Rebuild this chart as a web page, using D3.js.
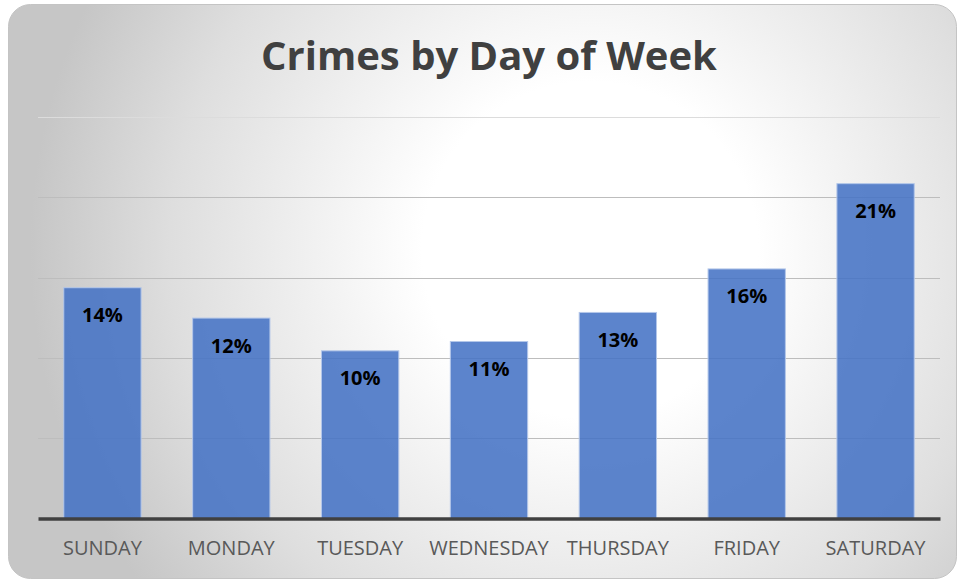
<!DOCTYPE html>
<html>
<head>
<meta charset="utf-8">
<script src="https://cdn.jsdelivr.net/npm/d3@7"></script>
<style>
  html, body { margin: 0; padding: 0; background: #ffffff; }
  svg { display: block; }
</style>
</head>
<body>
<svg id="chart" width="959" height="580"></svg>
<script>
const days = ["SUNDAY", "MONDAY", "TUESDAY", "WEDNESDAY", "THURSDAY", "FRIDAY", "SATURDAY"];
const shares = [14.37, 12.48, 10.44, 11.02, 12.83, 15.54, 20.85];
const gridTicks = [5, 10, 15, 20, 25];
const title = "Crimes by Day of Week";

const svg = d3.select("#chart");
const W = 959, H = 580;
const margin = { left: 38, right: 19, top: 117, bottom: 61.5 };

const defs = svg.append("defs");
const grad = defs.append("radialGradient")
  .attr("id", "bg").attr("gradientUnits", "userSpaceOnUse")
  .attr("cx", 590).attr("cy", 250).attr("r", 560)
  .attr("fx", 590).attr("fy", 250);
grad.append("stop").attr("offset", "0%").attr("stop-color", "#ffffff");
grad.append("stop").attr("offset", "30%").attr("stop-color", "#ffffff");
grad.append("stop").attr("offset", "75%").attr("stop-color", "#dedede");
grad.append("stop").attr("offset", "100%").attr("stop-color", "#c6c6c6");

svg.append("rect")
  .attr("x", 8.5).attr("y", 4.5).attr("width", 948).attr("height", 574)
  .attr("rx", 22).attr("ry", 22)
  .attr("fill", "url(#bg)")
  .attr("stroke", "#c4c4c4").attr("stroke-width", 1);

const x = d3.scaleBand()
  .domain(days)
  .range([margin.left, W - margin.right])
  .paddingInner(0.4).paddingOuter(0.2);

const y = d3.scaleLinear()
  .domain([0, 25])
  .range([H - margin.bottom, margin.top]);

// gridlines
svg.append("g").selectAll("line")
  .data(gridTicks)
  .join("line")
  .attr("x1", margin.left).attr("x2", W - margin.right)
  .attr("y1", d => Math.round(y(d)) + 0.5)
  .attr("y2", d => Math.round(y(d)) + 0.5)
  .attr("stroke", d => d === 25 ? "#dcdcdc" : "#bdbdbd")
  .attr("stroke-width", 1);

// bars
svg.append("g").selectAll("rect")
  .data(days.map((d, i) => ({ day: d, v: shares[i] })))
  .join("rect")
  .attr("x", d => x(d.day))
  .attr("y", d => y(d.v))
  .attr("width", x.bandwidth())
  .attr("height", d => y(0) - y(d.v))
  .attr("fill", "#4472c4")
  .attr("fill-opacity", 0.87)
  .attr("stroke", "#b4c7e9")
  .attr("stroke-width", 1);

// value labels
svg.append("g").selectAll("text")
  .data(days.map((d, i) => ({ day: d, v: shares[i] })))
  .join("text")
  .attr("x", d => x(d.day) + x.bandwidth() / 2)
  .attr("y", d => y(d.v) + 34.5)
  .attr("text-anchor", "middle")
  .attr("font-family", "'Open Sans', sans-serif")
  .attr("font-weight", 700)
  .attr("font-size", 20)
  .attr("fill", "#000000")
  .text(d => Math.round(d.v) + "%");

// baseline axis
const xAxis = d3.axisBottom(x).tickSize(0).tickPadding(22);
const ax = svg.append("g")
  .attr("transform", `translate(0,${y(0)})`)
  .call(xAxis);
ax.select(".domain").attr("stroke", "#404040").attr("stroke-width", 3.5);
ax.selectAll(".tick text")
  .attr("font-family", "'Open Sans', sans-serif")
  .attr("font-size", 20)
  .attr("fill", "#595959");

// title
svg.append("text")
  .attr("x", (margin.left + W - margin.right) / 2)
  .attr("y", 70)
  .attr("text-anchor", "middle")
  .attr("font-family", "'Open Sans', sans-serif")
  .attr("font-weight", 700)
  .attr("font-size", 40)
  .attr("fill", "#404040")
  .text(title);
</script>
</body>
</html>
